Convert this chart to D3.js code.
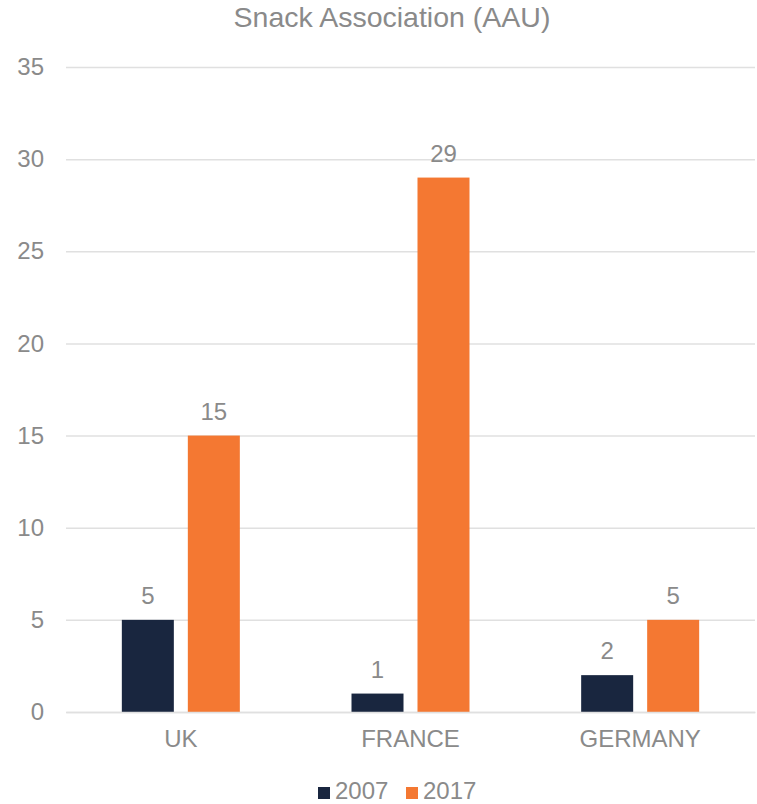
<!DOCTYPE html>
<html>
<head>
<meta charset="utf-8">
<script src="https://cdn.jsdelivr.net/npm/d3@7"></script>
<style>
  html, body { margin: 0; padding: 0; background: #ffffff; }
  svg { display: block; font-family: "Liberation Sans", Arial, sans-serif; }
</style>
</head>
<body>
<svg id="chart" width="757" height="804"></svg>
<script>
// Snack Association (AAU) — counts by country, 2007 vs 2017
const categories = ["UK", "FRANCE", "GERMANY"];
const seriesNames = ["2007", "2017"];
const values2007 = [5, 1, 2];
const values2017 = [15, 29, 5];
const yTicks = [0, 5, 10, 15, 20, 25, 30, 35];
const colors = ["#19263f", "#f47832"];

const seriesValues = [values2007, values2017];
const svg = d3.select("#chart");
const textColor = "#8a8a8a";

const plot = { left: 66, right: 755, top: 67, bottom: 712 };

const x0 = d3.scaleBand().domain(categories).range([plot.left, plot.right]).padding(0);
const x1 = d3.scaleBand().domain(seriesNames).range([0, x0.bandwidth()])
  .paddingInner(0.212).paddingOuter(0.846);
const y = d3.scaleLinear().domain([0, 35]).range([plot.bottom, plot.top]);

// Title
svg.append("text")
  .attr("x", 392).attr("y", 27)
  .attr("text-anchor", "middle")
  .attr("font-size", 28.5)
  .attr("fill", textColor)
  .text("Snack Association (AAU)");

// Gridlines and value axis labels
const yAxis = d3.axisLeft(y).tickValues(yTicks).tickSize(-(plot.right - plot.left)).tickPadding(22);
const gy = svg.append("g").attr("transform", `translate(${plot.left},0)`).call(yAxis);
gy.select(".domain").remove();
gy.selectAll(".tick line").attr("stroke", "#e0e0e0").attr("stroke-width", 1.5);
gy.selectAll(".tick text")
  .attr("fill", textColor)
  .attr("font-size", 24)
  .attr("font-family", "\"Liberation Sans\", Arial, sans-serif");

// Bars
categories.forEach((cat, ci) => {
  seriesNames.forEach((s, si) => {
    const v = seriesValues[si][ci];
    const bx = x0(cat) + x1(s);
    svg.append("rect")
      .attr("x", bx)
      .attr("y", y(v))
      .attr("width", x1.bandwidth())
      .attr("height", y(0) - y(v))
      .attr("fill", colors[si]);
    svg.append("text")
      .attr("x", bx + x1.bandwidth() / 2)
      .attr("y", y(v) - 16)
      .attr("text-anchor", "middle")
      .attr("font-size", 24)
      .attr("fill", textColor)
      .text(v);
  });
});

// Category axis
const xAxis = d3.axisBottom(x0).tickSize(0).tickPadding(18);
const gx = svg.append("g").attr("transform", `translate(0,${plot.bottom})`).call(xAxis);
gx.select(".domain").attr("stroke", "#e0e0e0").attr("stroke-width", 1.5);
gx.selectAll(".tick text")
  .attr("fill", textColor)
  .attr("font-size", 24)
  .attr("font-family", "\"Liberation Sans\", Arial, sans-serif");

// Legend
const legendX = [318, 406];
seriesNames.forEach((s, i) => {
  const g = svg.append("g").attr("transform", `translate(${legendX[i]},0)`);
  g.append("rect").attr("x", 0).attr("y", 787).attr("width", 12).attr("height", 12).attr("fill", colors[i]);
  g.append("text").attr("x", 17).attr("y", 799)
    .attr("font-size", 24).attr("fill", textColor).text(s);
});
</script>
</body>
</html>
